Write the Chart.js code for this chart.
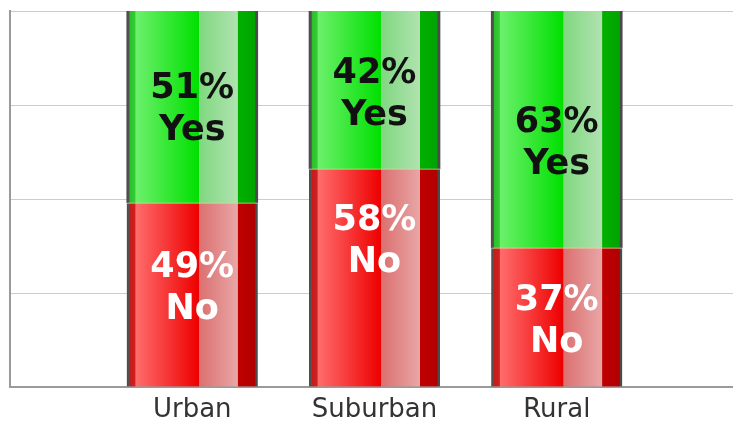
<!DOCTYPE html>
<html>
<head>
<meta charset="utf-8">
<script src="https://cdn.jsdelivr.net/npm/chart.js@4"></script>
<style>
  html, body { margin: 0; padding: 0; background: #fff; overflow: hidden; }
  #wrap { width: 747px; height: 421px; }
</style>
</head>
<body>
<div id="wrap"><canvas id="c" width="747" height="421"></canvas></div>
<script>
// ---- data ----
const categories = ['', 'Urban', 'Suburban', 'Rural', ''];
const noValues  = [null, 49, 58, 37, null];
const yesValues = [null, 51, 42, 63, null];
const seriesNames = ['No', 'Yes'];
const yTicks = [0, 25, 50, 75, 100];
// where each in-bar label sits (in axis units), as in the original
const noLabelAt  = [null, 27.1, 39.4, 18.2, null];
const yesLabelAt = [null, 74.5, 78.6, 65.5, null];

// ---- styles ----
const BAR_W = 131;
const greenStops = [
  [0, '#4a4a4a'], [0.018, '#555555'], [0.024, '#2cc02c'], [0.062, '#33cc33'],
  [0.07, '#6cf06c'], [0.548, '#00e000'], [0.553, '#80d880'], [0.845, '#b0e2b0'],
  [0.85, '#00b000'], [0.978, '#00a400'], [0.985, '#4a4a4a'], [1, '#4a4a4a']
];
const redStops = [
  [0, '#4a4a4a'], [0.018, '#555555'], [0.024, '#c41c1c'], [0.062, '#d02020'],
  [0.07, '#ff6c6c'], [0.548, '#ee0000'], [0.553, '#dc7070'], [0.845, '#e8a6a6'],
  [0.85, '#c00000'], [0.978, '#b00000'], [0.985, '#4a4a4a'], [1, '#4a4a4a']
];

function barGradient(stops, fallback) {
  return (ctx) => {
    const chart = ctx.chart;
    const xs = chart.scales && chart.scales.x;
    if (!xs || ctx.dataIndex === undefined || !chart.chartArea) return fallback;
    const cx = xs.getPixelForValue(ctx.dataIndex);
    if (!isFinite(cx)) return fallback;
    const g = chart.ctx.createLinearGradient(cx - BAR_W / 2, 0, cx + BAR_W / 2, 0);
    stops.forEach(s => g.addColorStop(s[0], s[1]));
    return g;
  };
}

const labelPlugin = {
  id: 'inBarLabels',
  afterDatasetsDraw(chart) {
    const ctx = chart.ctx;
    const ys = chart.scales.y;
    const anchors = [noLabelAt, yesLabelAt];
    const colors = ['#ffffff', '#111111'];
    ctx.save();
    ctx.font = 'bold 35px "DejaVu Sans"';
    ctx.textAlign = 'center';
    ctx.textBaseline = 'alphabetic';
    chart.data.datasets.forEach((ds, di) => {
      const meta = chart.getDatasetMeta(di);
      meta.data.forEach((bar, i) => {
        const v = ds.data[i];
        if (v == null) return;
        const mid = ys.getPixelForValue(anchors[di][i]);
        ctx.fillStyle = colors[di];
        ctx.fillText(v + '%', bar.x, mid - 21 + 12.5);
        ctx.fillText(ds.label, bar.x, mid + 21 + 12.5);
      });
    });
    ctx.restore();
  }
};

new Chart(document.getElementById('c'), {
  type: 'bar',
  data: {
    labels: categories,
    datasets: [
      { label: seriesNames[0], data: noValues, backgroundColor: barGradient(redStops, '#ee0000'),
        borderWidth: { top: 1, left: 0, right: 0, bottom: 0 }, borderColor: '#e8d8a0', borderSkipped: false },
      { label: seriesNames[1], data: yesValues, backgroundColor: barGradient(greenStops, '#00e000'),
        borderWidth: 0 }
    ]
  },
  options: {
    responsive: false,
    animation: false,
    barThickness: BAR_W,
    layout: { padding: { left: 10, top: 11, right: 0, bottom: 0 } },
    plugins: { legend: { display: false }, tooltip: { enabled: false } },
    scales: {
      x: {
        stacked: true,
        offset: false,
        grid: { display: false, drawTicks: false },
        border: { display: true, color: '#9a9a9a', width: 2 },
        ticks: {
          padding: 8,
          color: '#333333',
          font: { family: '"DejaVu Sans"', size: 26 },
          autoSkip: false, maxRotation: 0
        },
        afterFit: (s) => { s.height = 34; }
      },
      y: {
        stacked: true,
        min: 0, max: 100,
        afterBuildTicks: (s) => { s.ticks = yTicks.map(v => ({ value: v })); },
        grid: { color: '#cccccc', lineWidth: 1, drawTicks: false },
        border: { display: true, color: '#9a9a9a', width: 2 },
        ticks: { display: false }
      }
    }
  },
  plugins: [labelPlugin]
});
</script>
</body>
</html>
